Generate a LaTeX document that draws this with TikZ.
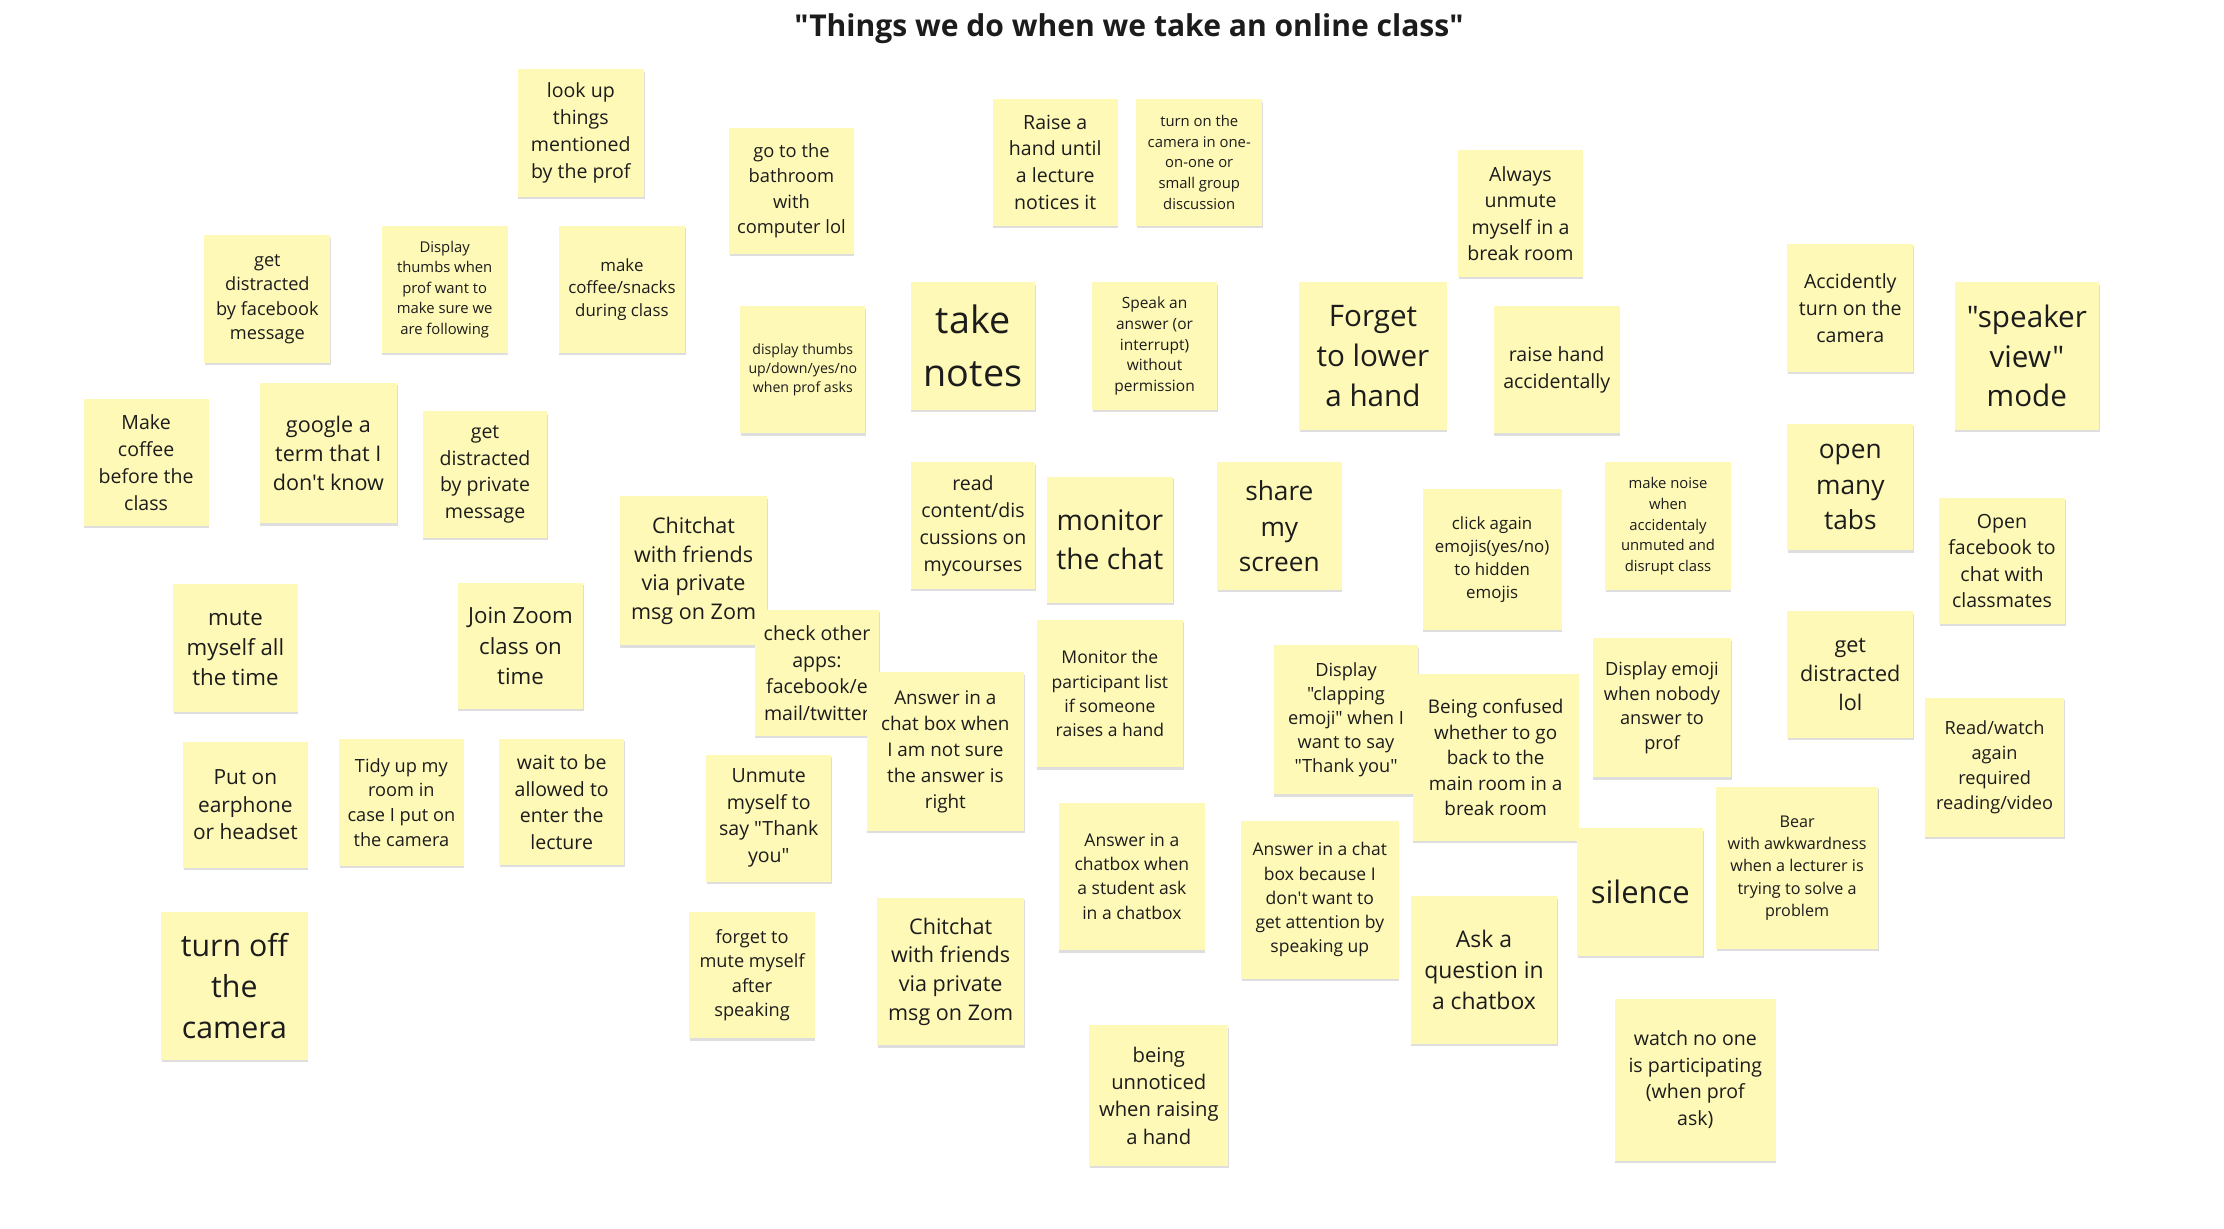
\documentclass[tikz,border=0pt]{standalone}
\usepackage{fontspec}
\setmainfont{Open Sans}[Ligatures=TeXOff]
\usetikzlibrary{shadows}
\definecolor{stickyyellow}{HTML}{FEF9B6}
\definecolor{inktext}{HTML}{1C1C1C}
\tikzset{
  note/.style={rectangle, fill=stickyyellow, inner sep=0pt, align=center, text=inktext,
    drop shadow={shadow xshift=0.4pt, shadow yshift=-1.6pt, opacity=0.13, fill=black}},
  fs/.style n args={2}{font=\fontsize{\fpeval{0.95*#1}}{#2}\selectfont},
  wh/.style n args={2}{minimum width=#1pt, minimum height=#2pt},
  titletext/.style={font=\bfseries\fontsize{21.2}{25}\selectfont, text=inktext}
}
\begin{document}
\begin{tikzpicture}[x=1pt,y=-1pt]
\fill[white] (0,0) rectangle (1568,866);
\useasboundingbox (0,0) rectangle (1568,866);

\node[titletext] (title) at (796,20) {"Things we do when we take an online class"};

% top area
\node[note, wh={89}{90}, fs={14.5}{19}] (lookup) at (409.5,94) {look up\\things\\mentioned\\by the prof};
\node[note, wh={88}{89}, fs={13.6}{17.7}] (bathroom) at (558,134.5) {go to the\\bathroom\\with\\computer lol};
\node[note, wh={88}{89}, fs={14.5}{19}] (raise) at (744,114.5) {Raise a\\hand until\\a lecture\\notices it};
\node[note, wh={89}{89}, fs={11}{14.5}] (turnon) at (845.5,114.5) {turn on the\\camera in one-\\on-one or\\small group\\discussion};
\node[note, wh={88}{89}, fs={14.5}{18.7}] (alwaysunmute) at (1072,150.5) {Always\\unmute\\myself in a\\break room};
\node[note, wh={89}{90}, fs={13.5}{17.3}] (fbmsg) at (188.5,211) {get\\distracted\\by facebook\\message};
\node[note, wh={89}{90}, fs={11}{14.5}] (thumbsa) at (313.5,204) {Display\\thumbs when\\prof want to\\make sure we\\are following};
\node[note, wh={89}{90}, fs={12.5}{16}] (snacks) at (438.5,204) {make\\coffee/snacks\\during class};
\node[note, wh={88}{89.5}, fs={10.5}{13.7}] (thumbsb) at (566,260.75) {display thumbs\\up/down/yes/no\\when prof asks};
\node[note, wh={88}{90}, fs={28}{37}] (takenotes) at (686,244) {take\\notes};
\node[note, wh={88}{90}, fs={11.5}{14.7}] (speak) at (814,244) {Speak an\\answer (or\\interrupt)\\without\\permission};
\node[note, wh={104}{104}, fs={22}{28.5}] (forget) at (968,251) {Forget\\to lower\\a hand};
\node[note, wh={89}{89.5}, fs={14.5}{19}] (raiseacc) at (1097.5,260.75) {raise hand\\accidentally};
\node[note, wh={89}{90}, fs={14.5}{19}] (accid) at (1304.5,217) {Accidently\\turn on the\\camera};
\node[note, wh={102}{104}, fs={22}{28}] (speaker) at (1429,251) {"speaker\\view"\\mode};

% middle area
\node[note, wh={88}{90}, fs={14.5}{19}] (makecoffee) at (103,326) {Make\\coffee\\before the\\class};
\node[note, wh={97}{99}, fs={16}{20.5}] (google) at (231.5,319.5) {google a\\term that I\\don't know};
\node[note, wh={88}{89}, fs={14.5}{18.7}] (privmsg) at (342,334.5) {get\\distracted\\by private\\message};
\node[note, wh={104}{105}, fs={16}{20.3}] (chita) at (489,402.5) {Chitchat\\with friends\\via private\\msg on Zom};
\node[note, wh={88}{89}, fs={14.5}{19}] (readcontent) at (686,370.5) {read\\content/dis\\cussions on\\mycourses};
\node[note, wh={89}{89}, fs={21}{27}] (monchat) at (782.5,380.5) {monitor\\the chat};
\node[note, wh={88}{90}, fs={19.5}{25}] (share) at (902,371) {share\\my\\screen};
\node[note, wh={98}{99}, fs={12.5}{16.3}] (clickagain) at (1052,394.5) {click again\\emojis(yes/no)\\to hidden\\emojis};
\node[note, wh={88.5}{90}, fs={11}{14.5}] (noise) at (1176,371) {make noise\\when\\accidentaly\\unmuted and\\disrupt class};
\node[note, wh={89}{89}, fs={19.5}{25}] (tabs) at (1304.5,343.5) {open\\many\\tabs};
\node[note, wh={89}{89}, fs={14.5}{18.7}] (openfb) at (1411.5,395.5) {Open\\facebook to\\chat with\\classmates};
\node[note, wh={88}{90}, fs={16.5}{21}] (mute) at (166,457) {mute\\myself all\\the time};
\node[note, wh={88.5}{89}, fs={16.5}{21.5}] (join) at (367,455.5) {Join Zoom\\class on\\time};
\node[note, wh={88}{89}, fs={14.5}{18.7}] (checkapps) at (576,474.5) {check other\\apps:\\facebook/e\\mail/twitter};
\node[note, wh={111}{112}, fs={14}{18.2}] (notsure) at (666.5,530) {Answer in a\\chat box when\\I am not sure\\the answer is\\right};
\node[note, wh={103}{104}, fs={13}{17}] (monpart) at (782.5,489) {Monitor the\\participant list\\if someone\\raises a hand};
\node[note, wh={102}{105}, fs={13.5}{17}] (clapping) at (949,507.5) {Display\\"clapping\\emoji" when I\\want to say\\"Thank you"};
\node[note, wh={117}{118}, fs={14}{18}] (confused) at (1054.5,534) {Being confused\\whether to go\\back to the\\main room in a\\break room};
\node[note, wh={97.5}{98}, fs={13.5}{17.6}] (dispemoji) at (1171.75,499) {Display emoji\\when nobody\\answer to\\prof};
\node[note, wh={89}{89}, fs={16}{20.5}] (distlol) at (1304.5,475.5) {get\\distracted\\lol};
\node[note, wh={98.5}{98}, fs={13.5}{17.6}] (readwatch) at (1406.25,541) {Read/watch\\again\\required\\reading/video};

% lower area
\node[note, wh={88}{89}, fs={15.5}{19.5}] (puton) at (173,567.5) {Put on\\earphone\\or headset};
\node[note, wh={88}{89.5}, fs={13.5}{17.3}] (tidy) at (283,565.75) {Tidy up my\\room in\\case I put on\\the camera};
\node[note, wh={88}{89}, fs={14.5}{18.7}] (wait) at (396,565.5) {wait to be\\allowed to\\enter the\\lecture};
\node[note, wh={88}{89.5}, fs={14.5}{18.7}] (unmutety) at (542,576.75) {Unmute\\myself to\\say "Thank\\you"};
\node[note, wh={103}{104}, fs={13}{17}] (ansstudent) at (798,618) {Answer in a\\chatbox when\\a student ask\\in a chatbox};
\node[note, wh={111}{111.5}, fs={13}{17}] (ansbecause) at (930.5,634.25) {Answer in a chat\\box because I\\don't want to\\get attention by\\speaking up};
\node[note, wh={89}{90}, fs={23}{29}] (silence) at (1156.5,629) {silence};
\node[note, wh={114}{114}, fs={12}{15.8}] (bear) at (1267,612) {Bear\\with awkwardness\\when a lecturer is\\trying to solve a\\problem};
\node[note, wh={103.5}{104}, fs={22.5}{29}] (turnoff) at (165.25,695) {turn off\\the\\camera};
\node[note, wh={88.5}{89}, fs={13.5}{17.3}] (forgetmute) at (530.25,687.5) {forget to\\mute myself\\after\\speaking};
\node[note, wh={103.5}{104}, fs={16}{20.3}] (chitb) at (670.25,685) {Chitchat\\with friends\\via private\\msg on Zom};
\node[note, wh={103.5}{104}, fs={17}{22}] (ask) at (1046.25,684) {Ask a\\question in\\a chatbox};
\node[note, wh={98}{99}, fs={15}{19.3}] (unnoticed) at (817,772.5) {being\\unnoticed\\when raising\\a hand};
\node[note, wh={113.5}{114.5}, fs={14.5}{18.7}] (watch) at (1195.25,761.25) {watch no one\\is participating\\(when prof\\ask)};
\end{tikzpicture}
\end{document}
